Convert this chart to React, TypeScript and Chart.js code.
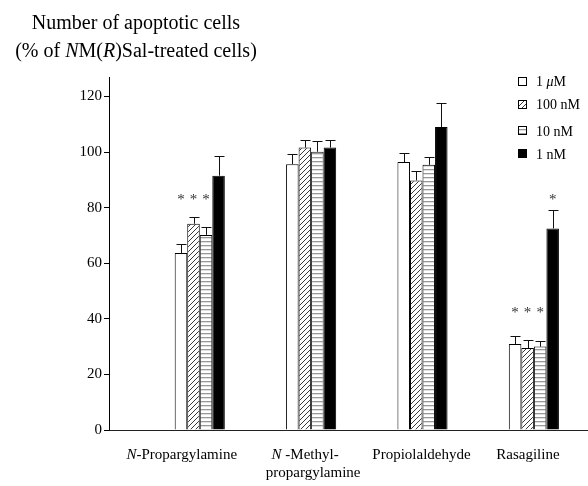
import React, { useEffect, useRef } from "react";
import { Chart, registerables } from "chart.js";
Chart.register(...registerables);

const FONT = "'Liberation Serif', 'Times New Roman', serif";

// ---------- data ----------
const categories = [
  "<i>N</i>-Propargylamine",
  "<i>N</i> -Methyl-\npropargylamine",
  "Propiolaldehyde",
  "Rasagiline",
];
const seriesNames = ["1 <i>μ</i>M", "100 nM", "10 nM", "1 nM"];
const mean1uM = [63.7, 95.6, 96.4, 30.9];
const mean100nM = [74.2, 101.6, 89.8, 29.5];
const mean10nM = [70.2, 100.1, 95.4, 30.0];
const mean1nM = [91.5, 101.6, 109.0, 72.5];
const err1uM = [3.3, 3.6, 3.1, 2.8];
const err100nM = [2.5, 2.7, 3.5, 2.7];
const err10nM = [3.0, 3.9, 2.7, 1.9];
const err1nM = [6.9, 2.7, 8.7, 6.6];
const star1uM = [84, null, null, 43];
const star100nM = [84, null, null, 43];
const star10nM = [84, null, null, 43];
const star1nM = [null, null, null, 84];
const yTickStep = 20;
const yMax = 127;
const titleLines = ["Number of apoptotic cells", "(% of <i>N</i>M(<i>R</i>)Sal-treated cells)"];

// ---------- layout (px) ----------
const labelOffsets = [[-18], [-6, 2], [-1], [-6]];
const legendRows = [81, 104, 130.5, 153.5];

function parseRich(s: string) {
  const parts: { t: string; i: boolean }[] = [];
  const re = /<i>(.*?)<\/i>/g;
  let last = 0;
  let m: RegExpExecArray | null;
  while ((m = re.exec(s))) {
    if (m.index > last) parts.push({ t: s.slice(last, m.index), i: false });
    parts.push({ t: m[1], i: true });
    last = re.lastIndex;
  }
  if (last < s.length) parts.push({ t: s.slice(last), i: false });
  return parts;
}

function drawRich(ctx: CanvasRenderingContext2D, s: string, x: number, y: number, size: number, align: string) {
  const parts = parseRich(s);
  const f = (it: boolean) => `${it ? "italic " : ""}${size}px ${FONT}`;
  let w = 0;
  parts.forEach((p) => {
    ctx.font = f(p.i);
    w += ctx.measureText(p.t).width;
  });
  let cx = align === "center" ? x - w / 2 : align === "right" ? x - w : x;
  ctx.textAlign = "left";
  parts.forEach((p) => {
    ctx.font = f(p.i);
    ctx.fillText(p.t, cx, y);
    cx += ctx.measureText(p.t).width;
  });
}

function makeHatch(): CanvasPattern | string {
  const c = document.createElement("canvas");
  c.width = 5;
  c.height = 5;
  const g = c.getContext("2d")!;
  g.fillStyle = "#fff";
  g.fillRect(0, 0, 5, 5);
  g.strokeStyle = "#222";
  g.lineWidth = 0.9;
  g.beginPath();
  g.moveTo(0, 5);
  g.lineTo(5, 0);
  g.moveTo(-1, 1);
  g.lineTo(1, -1);
  g.moveTo(4, 6);
  g.lineTo(6, 4);
  g.stroke();
  return g.createPattern(c, "repeat") || "#888";
}

function makeHoriz(): CanvasPattern | string {
  const c = document.createElement("canvas");
  c.width = 4;
  c.height = 4;
  const g = c.getContext("2d")!;
  g.fillStyle = "#fff";
  g.fillRect(0, 0, 4, 4);
  g.fillStyle = "#999";
  g.fillRect(0, 1, 4, 1.3);
  return g.createPattern(c, "repeat") || "#ccc";
}

export default function App() {
  const ref = useRef<HTMLCanvasElement>(null);
  useEffect(() => {
    const hatch = makeHatch();
    const horiz = makeHoriz();
    const fills = ["#fff", hatch, horiz, "#000"];
    const means = [mean1uM, mean100nM, mean10nM, mean1nM];
    const errs = [err1uM, err100nM, err10nM, err1nM];
    const stars = [star1uM, star100nM, star10nM, star1nM];

    const overlay = {
      id: "overlay",
      afterDatasetsDraw(chart: any) {
        const ctx = chart.ctx as CanvasRenderingContext2D;
        const ys = chart.scales.y;
        const xs = chart.scales.x;
        ctx.save();
        // error bars
        ctx.strokeStyle = "#111";
        ctx.lineWidth = 1;
        means.forEach((_, di) => {
          const meta = chart.getDatasetMeta(di);
          meta.data.forEach((bar: any, j: number) => {
            const top = ys.getPixelForValue(means[di][j]);
            const cap = ys.getPixelForValue(means[di][j] + errs[di][j]);
            const x = Math.round(bar.x) + 0.5;
            const yc = Math.round(cap) + 0.5;
            ctx.beginPath();
            ctx.moveTo(x, top);
            ctx.lineTo(x, yc);
            ctx.moveTo(x - 5, yc);
            ctx.lineTo(x + 5, yc);
            ctx.stroke();
          });
        });
        // significance stars
        ctx.fillStyle = "#333";
        ctx.font = `15px ${FONT}`;
        ctx.textAlign = "center";
        ctx.textBaseline = "alphabetic";
        const mm = ctx.measureText("*");
        const asc = mm.actualBoundingBoxAscent || 9;
        const desc = mm.actualBoundingBoxDescent || -4;
        stars.forEach((arr, di) => {
          const meta = chart.getDatasetMeta(di);
          arr.forEach((v, j) => {
            if (v == null) return;
            const py = ys.getPixelForValue(v);
            ctx.fillText("*", meta.data[j].x, py + (asc - desc) / 2);
          });
        });
        // category labels
        ctx.fillStyle = "#000";
        ctx.textBaseline = "alphabetic";
        categories.forEach((c, i) => {
          const cx = xs.getPixelForValue(i + 1);
          c.split("\n").forEach((line, k) => {
            const off = labelOffsets[i][k] ?? labelOffsets[i][0];
            drawRich(ctx, line, cx + off, 459 + k * 18, 15, "center");
          });
        });
        // title
        titleLines.forEach((t, k) => drawRich(ctx, t, 136, 29 + k * 28, 20, "center"));
        // legend
        seriesNames.forEach((n, k) => {
          const cy = legendRows[k];
          const bx = 518.5;
          const by = Math.round(cy - 4.5) + 0.5;
          ctx.fillStyle = fills[k] as any;
          ctx.fillRect(bx, by, 8, 8);
          ctx.strokeStyle = "#000";
          ctx.lineWidth = 1;
          ctx.strokeRect(bx, by, 8, 8);
          ctx.fillStyle = "#000";
          ctx.textBaseline = "alphabetic";
          drawRich(ctx, n, 536, cy + 5, 14, "left");
        });
        ctx.restore();
      },
    };

    const chart = new Chart(ref.current!, {
      type: "bar",
      data: {
        datasets: means.map((m, di) => ({
          label: seriesNames[di],
          data: m.map((v, i) => ({ x: i + 1, y: v })),
          backgroundColor: fills[di] as any,
          borderColor: "#000",
          borderWidth: 1,
          categoryPercentage: 0.45,
          barPercentage: 1,
        })),
      },
      options: {
        animation: false,
        responsive: false,
        devicePixelRatio: 1,
        layout: { padding: { left: 0, top: 77, right: 1, bottom: 0 } },
        plugins: { legend: { display: false }, tooltip: { enabled: false } },
        scales: {
          x: {
            type: "linear",
            min: 0.185,
            max: 4.477,
            offset: false,
            grid: { display: false, offset: false },
            border: { display: true, color: "#222", width: 1 },
            ticks: { display: false },
            afterBuildTicks: (s: any) => {
              s.ticks = categories.map((_, i) => ({ value: i + 1 }));
            },
            afterFit: (s: any) => {
              s.height = 56;
            },
          },
          y: {
            min: 0,
            max: yMax,
            ticks: {
              stepSize: yTickStep,
              includeBounds: false,
              color: "#000",
              padding: 2,
              font: { family: FONT, size: 15 },
            },
            grid: { drawOnChartArea: false, drawTicks: true, tickLength: 5, color: "#000" },
            border: { display: true, color: "#000", width: 1 },
            afterFit: (s: any) => {
              s.width = 109;
            },
          },
        },
      } as any,
      plugins: [overlay],
    });
    return () => chart.destroy();
  }, []);
  return (
    <div style={{ position: "absolute", left: 0, top: 0, width: 588, height: 486, background: "#fff" }}>
      <canvas ref={ref} width={588} height={486} style={{ display: "block" }} />
    </div>
  );
}
